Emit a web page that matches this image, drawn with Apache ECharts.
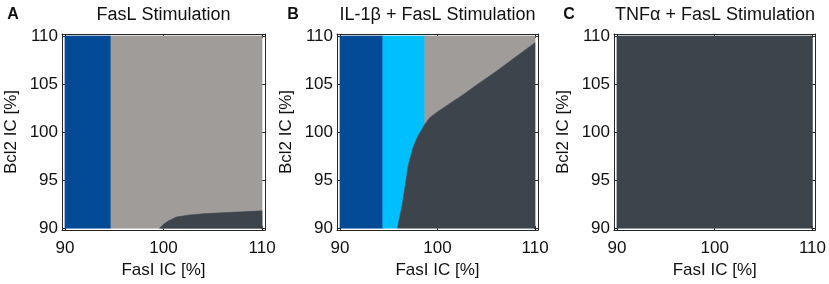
<!DOCTYPE html>
<html>
<head>
<meta charset="utf-8">
<script src="https://cdn.jsdelivr.net/npm/echarts@6/dist/echarts.min.js"></script>
<style>
html,body{margin:0;padding:0;background:#fff;}
#chart{width:829px;height:284px;}
</style>
</head>
<body>
<div id="chart"></div>
<script>
// ---- data ----
const xTicks = [90, 100, 110];
const yTicksAll = [90, 95, 100, 105, 110];
const panelLetters = ['A', 'B', 'C'];
const panelTitles = ['FasL Stimulation', 'IL-1\u03b2 + FasL Stimulation', 'TNF\u03b1 + FasL Stimulation'];
const xName = 'FasI IC [%]';
const yName = 'Bcl2 IC [%]';
const domain = [90, 110];

// Panel A
const aBlueEdge = 94.6;
const aDarkX = [99.6, 100.0, 100.5, 101.3, 102.5, 104.0, 106.0, 108.0, 110.0];
const aDarkY = [90.0, 90.4, 90.75, 91.15, 91.35, 91.5, 91.6, 91.7, 91.8];

// Panel B
const bBlueEdge = 94.4;
const bCyanEdge = 98.7;
const bDarkLeftX = [95.9, 96.1, 96.4, 96.7, 97.0, 97.5, 98.0, 98.7];
const bDarkLeftY = [90.0, 91.0, 92.5, 94.5, 96.5, 98.4, 99.6, 100.8];
const bDarkTopX = [98.7, 99.2, 100.0, 101.0, 102.5, 104.0, 106.0, 108.0, 110.0];
const bDarkTopY = [100.8, 101.5, 102.1, 102.8, 103.8, 104.9, 106.3, 107.8, 109.3];

// colours
const cBlue = '#034b96', cCyan = '#00bfff', cGray = '#a09c99', cDark = '#3d444b';

// ---- build polygons ----
const lo = domain[0], hi = domain[1];
function rect(x0, x1, y0, y1) { return [[x0, y0], [x0, y1], [x1, y1], [x1, y0]]; }
function zip(xs, ys) { return xs.map((x, i) => [x, ys[i]]); }

const aBottomCurve = zip(aDarkX, aDarkY);
const bLeft = zip(bDarkLeftX, bDarkLeftY);
const bTop = zip(bDarkTopX, bDarkTopY);

const panels = [
  [
    { poly: rect(aBlueEdge, hi, lo, hi), color: cGray },
    { poly: rect(lo, aBlueEdge, lo, hi), color: cBlue },
    { poly: aBottomCurve.concat([[hi, lo]]), color: cDark }
  ],
  [
    { poly: rect(lo, bBlueEdge, lo, hi), color: cBlue },
    { poly: [[bBlueEdge, lo], [bBlueEdge, hi], [bCyanEdge, hi]].concat(bLeft.slice().reverse()), color: cCyan },
    { poly: [[bCyanEdge, hi], [hi, hi]].concat(bTop.slice().reverse()), color: cGray },
    { poly: bLeft.concat(bTop.slice(1)).concat([[hi, lo]]), color: cDark }
  ],
  [
    { poly: rect(lo, hi, lo, hi), color: cDark }
  ]
];

// ---- layout ----
const grids = [
  { left: 62, top: 34, width: 203, height: 197 },
  { left: 337, top: 34, width: 201, height: 197 },
  { left: 614, top: 34, width: 202, height: 197 }
];
const FONT = 'Liberation Sans, Arial, sans-serif';
const lineCol = '#262626';
const txtCol = '#111';

const xAxes = [], yAxes = [], series = [], graphics = [];
grids.forEach((g, gi) => {
  const common = { type: 'value', gridIndex: gi, splitLine: { show: false } };
  xAxes.push(Object.assign({}, common, {
    position: 'bottom', min: 89.7, max: 110.3,
    axisLine: { show: true, onZero: false, lineStyle: { color: lineCol, width: 1 } },
    axisTick: { show: true, inside: true, length: 4, customValues: xTicks, lineStyle: { color: lineCol } },
    axisLabel: { show: true, customValues: xTicks, margin: 10, fontSize: 17, color: txtCol, fontFamily: FONT },
    name: xName, nameLocation: 'middle', nameGap: 31,
    nameTextStyle: { fontSize: 17, color: txtCol, fontFamily: FONT }
  }));
  xAxes.push(Object.assign({}, common, {
    position: 'top', min: 89.7, max: 110.3,
    axisLine: { show: true, onZero: false, lineStyle: { color: lineCol, width: 1 } },
    axisTick: { show: true, inside: true, length: 4, customValues: xTicks, lineStyle: { color: lineCol } },
    axisLabel: { show: false }
  }));
  yAxes.push(Object.assign({}, common, {
    position: 'left', min: 89.8, max: 110.2,
    axisLine: { show: true, onZero: false, lineStyle: { color: lineCol, width: 1 } },
    axisTick: { show: true, inside: true, length: 4, customValues: yTicksAll, lineStyle: { color: lineCol } },
    axisLabel: { show: true, customValues: yTicksAll, margin: 4, fontSize: 17, color: txtCol, fontFamily: FONT },
    name: yName, nameLocation: 'middle', nameGap: 42,
    nameTextStyle: { fontSize: 17, color: txtCol, fontFamily: FONT }
  }));
  yAxes.push(Object.assign({}, common, {
    position: 'right', min: 89.8, max: 110.2,
    axisLine: { show: true, onZero: false, lineStyle: { color: lineCol, width: 1 } },
    axisTick: { show: true, inside: true, length: 4, customValues: yTicksAll, lineStyle: { color: lineCol } },
    axisLabel: { show: false }
  }));
  panels[gi].forEach(region => {
    const poly = region.poly;
    series.push({
      type: 'custom', coordinateSystem: 'cartesian2d',
      xAxisIndex: gi * 2, yAxisIndex: gi * 2,
      silent: true, animation: false, clip: false, z: 1,
      data: [poly[0]],
      renderItem: function (params, api) {
        return {
          type: 'polygon',
          shape: { points: poly.map(p => api.coord(p)) },
          style: { fill: region.color, stroke: region.color, lineWidth: 0.6 }
        };
      }
    });
  });
  graphics.push({
    type: 'text', x: g.left + g.width / 2, y: 15,
    style: { text: panelTitles[gi], fontSize: 18, fontFamily: FONT, fill: txtCol, textAlign: 'center', textVerticalAlign: 'middle' }
  });
});
const letterX = [13, 293, 569];
panelLetters.forEach((L, i) => {
  graphics.push({
    type: 'text', x: letterX[i], y: 15,
    style: { text: L, fontSize: 16, fontWeight: 'bold', fontFamily: FONT, fill: txtCol, textAlign: 'center', textVerticalAlign: 'middle' }
  });
});

const chart = echarts.init(document.getElementById('chart'), null, { renderer: 'canvas' });
chart.setOption({
  backgroundColor: '#fff',
  animation: false,
  grid: grids,
  xAxis: xAxes,
  yAxis: yAxes,
  series: series,
  graphic: graphics
});
</script>
</body>
</html>
